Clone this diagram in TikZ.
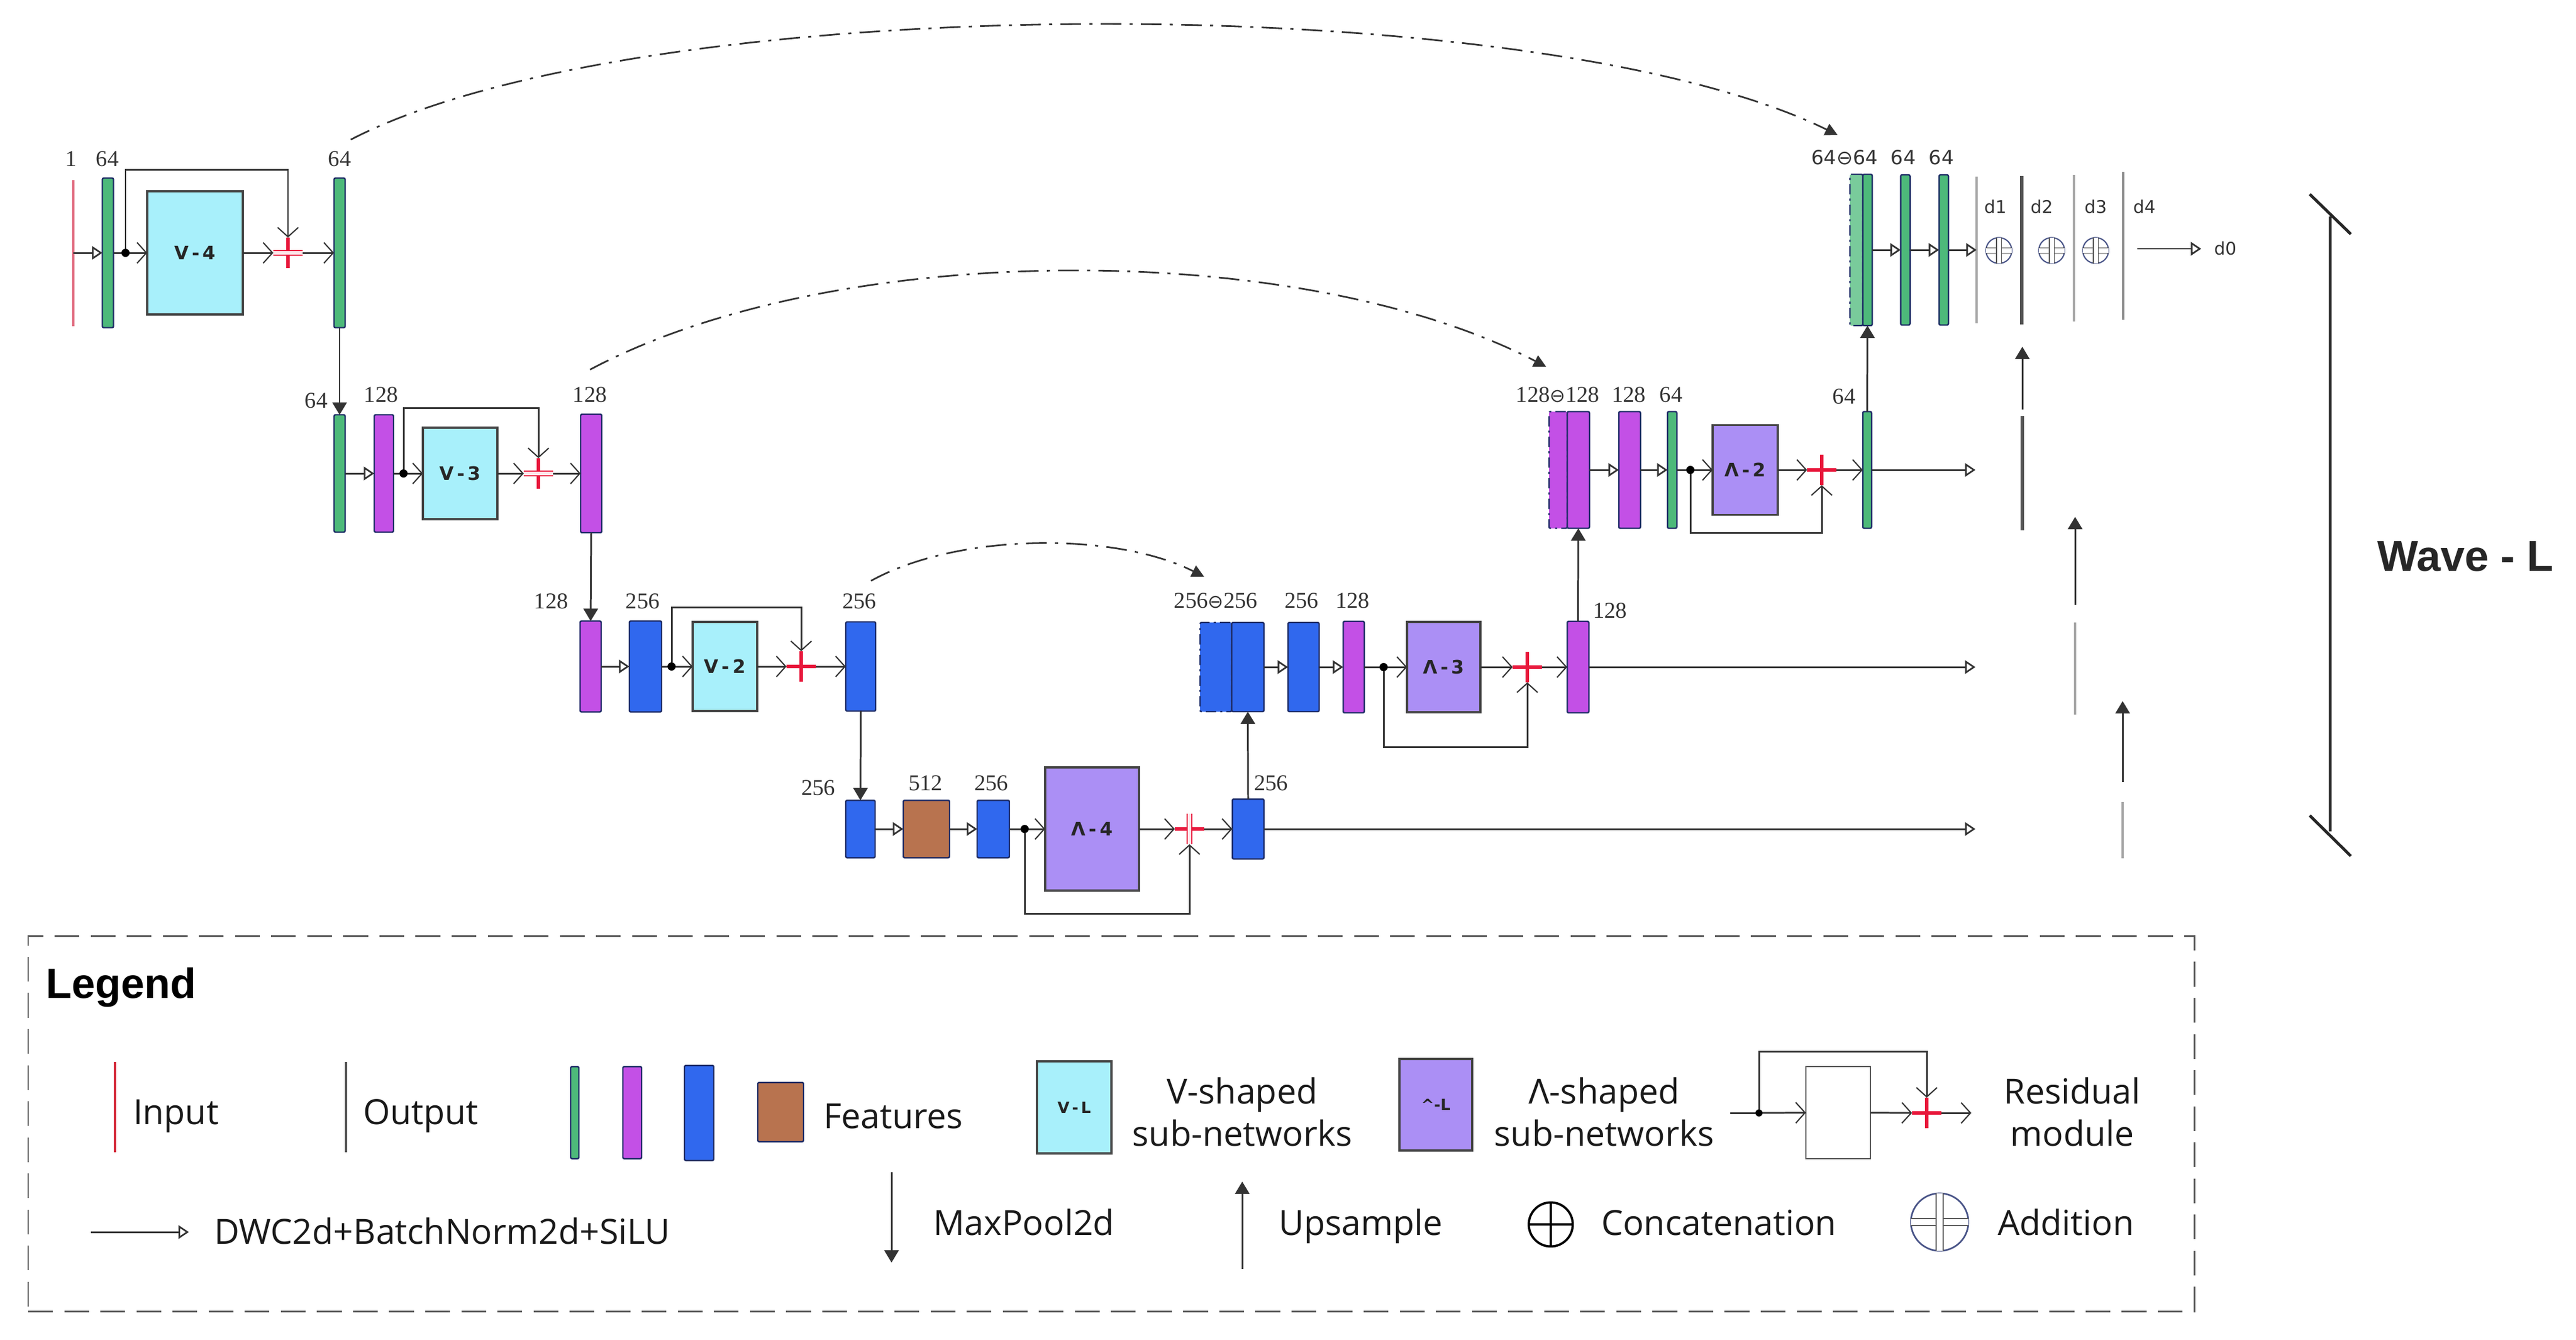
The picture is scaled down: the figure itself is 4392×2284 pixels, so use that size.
\documentclass[tikz,border=0pt]{standalone}
\usepackage{fontspec}
\setmainfont{Liberation Serif}
\newfontfamily\lgf{Open Sans}
\newfontfamily\djv{DejaVu Sans}
\newfontfamily\arb{Liberation Sans}
\usetikzlibrary{arrows.meta}
\definecolor{cgreen}{HTML}{4DB97A}
\definecolor{cpurple}{HTML}{C350E6}
\definecolor{cblue}{HTML}{3068EE}
\definecolor{cbrown}{HTML}{B8734F}
\definecolor{ccyan}{HTML}{A8F0FB}
\definecolor{clav}{HTML}{AB8FF5}
\definecolor{cnavy}{HTML}{1E2C66}
\definecolor{cred}{HTML}{E8183C}
\definecolor{cline}{HTML}{333333}
\definecolor{cbox}{HTML}{454545}
\definecolor{cinp}{HTML}{E06A7E}
\definecolor{cinl}{HTML}{D42A3A}
\definecolor{cgrey}{HTML}{A8A8A8}
\definecolor{cmgrey}{HTML}{8C8C8C}
\definecolor{cdgrey}{HTML}{555555}
\definecolor{caddc}{HTML}{4A5588}
\begin{document}
\begin{tikzpicture}[x=0.01cm,y=-0.01cm,
  base/.style={inner sep=0pt,outer sep=0pt},
  sz/.style 2 args={minimum width=#1*0.01cm,minimum height=#2*0.01cm},
  barst/.style={base,draw=cnavy,line width=0.7pt,rounded corners=0.7pt},
  gbar/.style={barst,fill=cgreen},
  pbar/.style={barst,fill=cpurple},
  bbar/.style={barst,fill=cblue},
  fbar/.style={barst,fill=cbrown},
  dsh/.style={dash pattern=on 5pt off 2pt on 1pt off 2pt},
  subn/.style={base,draw=cbox,line width=0.9pt,font=\djv\bfseries\fontsize{9}{10}\selectfont,text=black!85},
  vbox/.style={subn,fill=ccyan},
  lbox/.style={subn,fill=clav},
  lbl/.style={base,anchor=base,font=\fontsize{11}{12}\selectfont,text=black!80},
  slbl/.style={base,anchor=base,font=\djv\fontsize{9.5}{11}\selectfont,text=black!80},
  dlbl/.style={base,anchor=base,font=\djv\fontsize{8.5}{10}\selectfont,text=black!80},
  leg/.style={base,anchor=base west,font=\lgf\fontsize{16.8}{20}\selectfont,text=black!90},
  legc/.style={leg,anchor=base},
  conn/.style={draw=cline,line width=0.85pt},
  dwc/.style={conn,-{Triangle[open,length=5pt,width=6.5pt,line width=0.8pt]}},
  barb/.style={conn,-{Straight Barb[length=4.5pt,width=10pt,line width=0.6pt]}},
  pool/.style={conn,-{Triangle[length=6pt,width=7pt]}},
  skipc/.style={draw=cline,line width=0.8pt,dash pattern=on 10pt off 4pt on 1.5pt off 4pt,-{Triangle[length=6pt,width=6pt]}},
  jdot/.style={base,circle,fill=black,minimum size=0.14cm},
  plusn/.style={base,minimum width=0.5cm,minimum height=0.52cm},
  redp/.style={draw=cred,line width=1.5pt},
  redo/.style={draw=cred,line width=0.6pt,double=cred!12,double distance=1.6pt},
  vline/.style={base,minimum width=0pt},
  addc/.style={base,circle,draw=caddc,line width=0.6pt},
  addx/.style={draw=cdgrey,line width=0.4pt,double=white,double distance=#1},
]
\useasboundingbox (0,0) rectangle (4392,2284);

% ---------------- level 1 (encoder) ----------------
\node[vline,sz={0}{249}] (in) at (125,431) {};
\draw[draw=cinp,line width=1.1pt] (in.north) -- (in.south);
\node[gbar,sz={19}{255}] (g1) at (184,431) {};
\node[jdot] (j1) at (214,431) {};
\node[vbox,sz={163}{210}] (V4) at (332.5,431) {V\,-\,4};
\node[plusn] (a1) at (491,431) {};
\node[gbar,sz={19}{255}] (g2) at (579,431) {};
\node[lbl] at (121,283) {1};
\node[lbl] at (183,283) {64};
\node[lbl] at (579,283) {64};
\draw[dwc] (in.center) -- (g1.west);
\draw[conn] (g1.east) -- (j1);
\draw[barb] (j1) -- (V4.west);
\draw[barb] (V4.east) -- (a1.west);
\draw[barb] (a1.east) -- (g2.west);
\draw[barb] (j1) -- ++(0,-142) -| (a1.north);
\draw[redp] (a1.north) -- (a1.south);
\draw[redo] (a1.west) -- (a1.east);

% ---------------- level 2 (encoder) ----------------
\node[gbar,sz={19}{200}] (g3) at (579,807) {};
\node[pbar,sz={33}{200}] (p1) at (654.5,807) {};
\node[jdot] (j2) at (688,807) {};
\node[vbox,sz={127}{156}] (V3) at (784.5,807) {V\,-\,3};
\node[plusn] (a2) at (918,807) {};
\node[pbar,sz={36}{202}] (p2) at (1008,807) {};
\node[lbl] at (539,695) {64};
\node[lbl] at (650,685) {128};
\node[lbl] at (1006,685) {128};
\draw[pool] (g2.south) -- (g3.north);
\draw[dwc] (g3.east) -- (p1.west);
\draw[conn] (p1.east) -- (j2);
\draw[barb] (j2) -- (V3.west);
\draw[barb] (V3.east) -- (a2.west);
\draw[barb] (a2.east) -- (p2.west);
\draw[barb] (j2) -- ++(0,-112) -| (a2.north);
\draw[redp] (a2.north) -- (a2.south);
\draw[redo] (a2.west) -- (a2.east);

% ---------------- level 3 (encoder) ----------------
\node[pbar,sz={36}{155}] (p3) at (1007,1136) {};
\node[bbar,sz={55}{155}] (b1) at (1100.5,1136) {};
\node[jdot] (j3) at (1145,1136) {};
\node[vbox,sz={110}{152}] (V2) at (1236,1136) {V\,-\,2};
\node[plusn] (a3) at (1366,1136) {};
\node[bbar,sz={51}{152}] (b2) at (1467.5,1136) {};
\node[lbl] at (940,1037) {128};
\node[lbl] at (1096,1037) {256};
\node[lbl] at (1465,1037) {256};
\draw[pool] (p2.south) -- (p3.north);
\draw[dwc] (p3.east) -- (b1.west);
\draw[conn] (b1.east) -- (j3);
\draw[barb] (j3) -- (V2.west);
\draw[barb] (V2.east) -- (a3.west);
\draw[barb] (a3.east) -- (b2.west);
\draw[barb] (j3) -- ++(0,-101) -| (a3.north);
\draw[redp] (a3.north) -- (a3.south) (a3.west) -- (a3.east);

% ---------------- level 4 (bottom) ----------------
\node[bbar,sz={50}{98}] (b3) at (1467,1413) {};
\node[fbar,sz={79}{98}] (br) at (1579.5,1413) {};
\node[bbar,sz={55}{98}] (b4) at (1693.5,1413) {};
\node[jdot] (j4) at (1747,1413) {};
\node[lbox,sz={160}{210}] (L4) at (1862,1413) {Λ\,-\,4};
\node[plusn] (a4) at (2028,1413) {};
\node[bbar,sz={54}{102}] (b5) at (2128,1413) {};
\node[lbl] at (1395,1355) {256};
\node[lbl] at (1578,1347) {512};
\node[lbl] at (1690,1347) {256};
\node[lbl] at (2167,1347) {256};
\coordinate (e4) at (3368,1413);
\draw[pool] (b2.south) -- (b3.north);
\draw[dwc] (b3.east) -- (br.west);
\draw[dwc] (br.east) -- (b4.west);
\draw[conn] (b4.east) -- (j4);
\draw[barb] (j4) -- (L4.west);
\draw[barb] (L4.east) -- (a4.west);
\draw[barb] (a4.east) -- (b5.west);
\draw[barb] (j4) -- ++(0,144) -| (a4.south);
\draw[dwc] (b5.east) -- (e4);
\draw[redp] (a4.west) -- (a4.east);
\draw[redo] (a4.north) -- (a4.south);

% ---------------- level 3 (decoder) ----------------
\node[bbar,dsh,sz={54}{152}] (b6d) at (2073,1137) {};
\node[bbar,sz={55}{152}] (b6) at (2127.5,1137) {};
\node[bbar,sz={53}{152}] (b7) at (2222.5,1137) {};
\node[pbar,sz={36}{156}] (p4) at (2308,1137) {};
\node[jdot] (j5) at (2359,1137) {};
\node[lbox,sz={125}{154}] (L3) at (2461.5,1137) {Λ\,-\,3};
\node[plusn] (a5) at (2604,1137) {};
\node[pbar,sz={37}{156}] (p5) at (2690.5,1137) {};
\node[lbl] at (2073,1036) {256{\djv\fontsize{9}{10}\selectfont ⊖}256};
\node[lbl] at (2219,1036) {256};
\node[lbl] at (2306,1036) {128};
\node[lbl] at (2745,1053) {128};
\coordinate (e3) at (3368,1137);
\draw[pool] (b5.north) -- (b6.south);
\draw[dwc] (b6.east) -- (b7.west);
\draw[dwc] (b7.east) -- (p4.west);
\draw[conn] (p4.east) -- (j5);
\draw[barb] (j5) -- (L3.west);
\draw[barb] (L3.east) -- (a5.west);
\draw[barb] (a5.east) -- (p5.west);
\draw[barb] (j5) -- ++(0,136) -| (a5.south);
\draw[dwc] (p5.east) -- (e3);
\draw[redp] (a5.north) -- (a5.south) (a5.west) -- (a5.east);

% ---------------- level 2 (decoder) ----------------
\node[pbar,dsh,sz={31}{199}] (p6d) at (2656.5,801) {};
\node[pbar,sz={38}{199}] (p6) at (2691,801) {};
\node[pbar,sz={37}{199}] (p7) at (2778.5,801) {};
\node[gbar,sz={16}{199}] (g4) at (2851,801) {};
\node[jdot] (j6) at (2882,801) {};
\node[lbox,sz={111}{153}] (L2) at (2975.5,801) {Λ\,-\,2};
\node[plusn] (a6) at (3106,801) {};
\node[gbar,sz={15}{199}] (g5) at (3183.5,801) {};
\node[lbl] at (2656,685) {128{\djv\fontsize{9}{10}\selectfont ⊖}128};
\node[lbl] at (2777,685) {128};
\node[lbl] at (2849,685) {64};
\node[lbl] at (3144,688) {64};
\coordinate (e2) at (3368,801);
\draw[pool] (p5.north) -- (p6.south);
\draw[dwc] (p6.east) -- (p7.west);
\draw[dwc] (p7.east) -- (g4.west);
\draw[conn] (g4.east) -- (j6);
\draw[barb] (j6) -- (L2.west);
\draw[barb] (L2.east) -- (a6.west);
\draw[barb] (a6.east) -- (g5.west);
\draw[barb] (j6) -- ++(0,107) -| (a6.south);
\draw[dwc] (g5.east) -- (e2);
\draw[redp] (a6.north) -- (a6.south) (a6.west) -- (a6.east);

% ---------------- level 1 (decoder + outputs) ----------------
\node[gbar,dsh,fill=cgreen!75,sz={22}{258}] (g6d) at (3165,426) {};
\node[gbar,sz={16}{258}] (g6) at (3184,426) {};
\node[gbar,sz={16}{256}] (g7) at (3248.5,426) {};
\node[gbar,sz={16}{256}] (g8) at (3314,426) {};
\node[slbl] at (3145,280) {64⊖64};
\node[slbl] at (3245,280) {64};
\node[slbl] at (3310,280) {64};
\draw[pool] (g5.north) -- (g6.south);
\draw[dwc] (g6.east) -- (g7.west);
\draw[dwc] (g7.east) -- (g8.west);

\node[vline,sz={0}{250}] (o1) at (3370,426) {};
\node[vline,sz={0}{253}] (o2) at (3447,426.5) {};
\node[vline,sz={0}{250}] (o3) at (3536,423) {};
\node[vline,sz={0}{252}] (o4) at (3620,419) {};
\draw[draw=cgrey,line width=1.1pt] (o1.north) -- (o1.south);
\draw[draw=cdgrey,line width=1.5pt] (o2.north) -- (o2.south);
\draw[draw=cgrey,line width=1.1pt] (o3.north) -- (o3.south);
\draw[draw=cmgrey,line width=1.1pt] (o4.north) -- (o4.south);
\draw[dwc] (g8.east) -- (o1.west);
\node[dlbl] at (3402,363) {d1};
\node[dlbl] at (3481,363) {d2};
\node[dlbl] at (3573,363) {d3};
\node[dlbl] at (3656,363) {d4};
\foreach \nm/\xx in {s1/3408,s2/3498,s3/3573}{
  \node[addc,minimum size=0.44cm] (\nm) at (\xx,427) {};
  \draw[addx=2pt] (\nm.west) -- (\nm.east);
  \draw[addx=2pt] (\nm.north) -- (\nm.south);
}
\coordinate (d0s) at (3644,424);
\coordinate (d0e) at (3753,424);
\draw[dwc,line width=0.6pt] (d0s) -- (d0e);
\node[dlbl,anchor=base west] at (3775,434) {d0};

% lower output column
\node[vline,sz={0}{195}] (q1) at (3448,806.5) {};
\node[vline,sz={0}{157}] (q2) at (3538,1139.5) {};
\node[vline,sz={0}{96}] (q3) at (3619,1415) {};
\draw[draw=cdgrey,line width=1.5pt] (q1.north) -- (q1.south);
\draw[draw=cgrey,line width=1.1pt] (q2.north) -- (q2.south);
\draw[draw=cgrey,line width=1.1pt] (q3.north) -- (q3.south);
\coordinate (u1) at (3448,698);
\coordinate (u2) at (3538,1031);
\coordinate (u3) at (3619,1333);
\draw[pool] (u1) -- ++(0,-107);
\draw[pool] (u2) -- ++(0,-150);
\draw[pool] (u3) -- ++(0,-138);

% skip (dash-dot) connections
\coordinate (c1s) at (598,238);  \coordinate (c1e) at (3133,230);
\coordinate (c2s) at (1006,630); \coordinate (c2e) at (2636,625);
\coordinate (c3s) at (1485,990); \coordinate (c3e) at (2053,983);
\draw[skipc] (c1s) .. controls (1100,-22) and (2620,-22) .. (c1e);
\draw[skipc] (c2s) .. controls (1425,407) and (2217,407) .. (c2e);
\draw[skipc] (c3s) .. controls (1635,907) and (1903,907) .. (c3e);

% Wave-L bracket
\coordinate (w1) at (3973,369);  \coordinate (w2) at (3973,1417);
\coordinate (w3) at (3938,331);  \coordinate (w4) at (4008,399);
\coordinate (w5) at (3938,1390); \coordinate (w6) at (4008,1459);
\draw[draw=black!85,line width=1.4pt] (w1) -- (w2) (w3) -- (w4) (w5) -- (w6);
\node[base,anchor=base west,font=\arb\bfseries\fontsize{21}{24}\selectfont,text=black!85] (wave) at (4053,973) {Wave - L};

% ---------------- legend ----------------
\node[base,draw=cdgrey,line width=0.85pt,dash pattern=on 12pt off 5.5pt,sz={3693}{640}] (legbox) at (1894.5,1915) {};
\node[base,anchor=base west,font=\arb\bfseries\fontsize{20.5}{24}\selectfont] (lg) at (78,1701) {Legend};

\node[vline,sz={0}{154}] (lin) at (196,1887) {};
\draw[draw=cinl,line width=1.1pt] (lin.north) -- (lin.south);
\node[leg] at (227,1916) {Input};
\node[vline,sz={0}{154}] (lout) at (590,1887) {};
\draw[draw=cdgrey,line width=1.1pt] (lout.north) -- (lout.south);
\node[leg] at (619,1916) {Output};

\node[gbar,sz={14}{157}] (lgg) at (980,1896.5) {};
\node[pbar,sz={32}{157}] (lgp) at (1078,1896.5) {};
\node[bbar,sz={50}{162}] (lgb) at (1192,1897) {};
\node[fbar,sz={78}{101}] (lgf) at (1331,1895.5) {};
\node[leg] at (1404,1923) {Features};

\node[vbox,sz={127}{157},font=\djv\bfseries\fontsize{7.5}{9}\selectfont] (lgv) at (1831.5,1887.5) {V\,-\,L};
\node[legc] at (2118,1881) {V-shaped};
\node[legc] at (2118,1953) {sub-networks};
\node[lbox,sz={124}{156},font=\djv\bfseries\fontsize{7.5}{9}\selectfont] (lgl) at (2448,1883) {\textasciicircum-L};
\node[legc] at (2735,1881) {Λ-shaped};
\node[legc] at (2735,1953) {sub-networks};

\coordinate (rin) at (2950,1897);
\node[jdot,minimum size=0.12cm] (j7) at (2999,1897) {};
\node[base,draw=cdgrey,fill=white,line width=0.8pt,sz={110}{157}] (rb) at (3134,1896.5) {};
\node[plusn] (a7) at (3285,1897) {};
\coordinate (rout) at (3361,1897);
\draw[conn] (rin) -- (j7);
\draw[barb] (j7) -- (rb.west);
\draw[barb] (rb.east) -- (a7.west);
\draw[barb] (a7.east) -- (rout);
\draw[barb] (j7) -- ++(0,-105) -| (a7.north);
\draw[redp] (a7.north) -- (a7.south) (a7.west) -- (a7.east);
\node[legc] at (3533,1881) {Residual};
\node[legc] at (3533,1953) {module};

\coordinate (dws) at (155,2100); \coordinate (dwe) at (322,2100);
\draw[dwc] (dws) -- (dwe);
\node[leg] at (365,2120) {DWC2d+BatchNorm2d+SiLU};

\coordinate (mp1) at (1520,1998); \coordinate (mp2) at (1520,2152);
\draw[pool] (mp1) -- (mp2);
\node[leg] at (1591,2105) {MaxPool2d};
\coordinate (up1) at (2118,2163); \coordinate (up2) at (2118,2014);
\draw[pool] (up1) -- (up2);
\node[leg] at (2180,2105) {Upsample};

\node[base,circle,draw=black,line width=1.1pt,minimum size=0.75cm] (cat) at (2644,2087) {};
\draw[draw=black,line width=1.1pt] (cat.west) -- (cat.east) (cat.north) -- (cat.south);
\node[leg] at (2730,2105) {Concatenation};

\node[addc,minimum size=0.98cm,line width=0.8pt] (add) at (3307,2083) {};
\draw[addx=3pt,line width=0.5pt] (add.west) -- (add.east);
\draw[addx=3pt,line width=0.5pt] (add.north) -- (add.south);
\node[leg] at (3406,2105) {Addition};
\end{tikzpicture}
\end{document}
